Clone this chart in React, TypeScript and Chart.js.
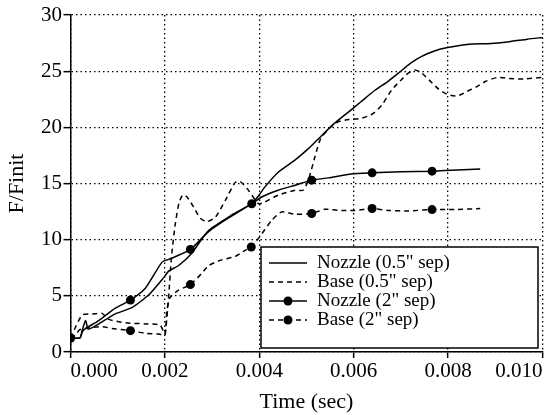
import React, { useEffect, useRef } from "react";
import { Chart, registerables } from "chart.js";

Chart.register(...registerables);

const FONT = "'Liberation Serif', 'Times New Roman', serif";

// Times are in milliseconds (converted to seconds for the x scale)
const nozzle05Time = [0, 0.2, 0.25, 0.32, 0.37, 0.45, 0.6, 0.95, 1.3, 1.66, 1.97, 2.08, 2.29, 2.57, 2.92, 3.42, 3.84, 4.0, 4.12, 4.4, 4.76, 5.04, 5.21, 5.55, 5.9, 6.16, 6.45, 6.73, 6.94, 7.2, 7.43, 7.71, 7.99, 8.45, 8.84, 9.26, 9.68, 10.0];
const nozzle05Vals = [1.25, 1.25, 1.95, 2.8, 2.05, 2.15, 2.5, 3.4, 3.95, 5.1, 6.6, 7.2, 7.7, 8.8, 10.8, 12.2, 13.2, 14.0, 14.7, 16.0, 17.1, 18.1, 18.8, 20.2, 21.4, 22.3, 23.3, 24.1, 24.8, 25.7, 26.3, 26.8, 27.1, 27.4, 27.45, 27.6, 27.85, 28.0];

const base05Time = [0, 0.11, 0.25, 0.46, 0.67, 0.81, 1.17, 1.59, 1.9, 2.0, 2.08, 2.14, 2.22, 2.3, 2.38, 2.47, 2.61, 2.75, 2.89, 3.07, 3.28, 3.49, 3.59, 3.77, 3.98, 4.12, 4.4, 4.76, 4.93, 5.04, 5.18, 5.3, 5.48, 5.67, 5.9, 6.16, 6.4, 6.6, 6.8, 7.0, 7.15, 7.3, 7.45, 7.6, 7.8, 8.0, 8.2, 8.4, 8.6, 8.8, 9.05, 9.3, 9.6, 10.0];
const base05Vals = [1.25, 2.25, 3.3, 3.38, 3.44, 2.9, 2.6, 2.5, 2.4, 1.6, 5.0, 8.5, 11.4, 13.3, 14.0, 13.8, 12.9, 11.9, 11.6, 12.0, 13.5, 15.1, 15.2, 14.4, 13.2, 13.36, 13.96, 14.4, 14.4, 15.3, 17.4, 19.0, 19.9, 20.5, 20.7, 20.8, 21.2, 22.0, 23.3, 24.2, 24.8, 25.1, 24.8, 24.2, 23.4, 22.9, 22.8, 23.2, 23.6, 24.1, 24.45, 24.35, 24.3, 24.45];

const nozzle2Time = [0, 0.2, 0.25, 0.32, 0.6, 0.95, 1.27, 1.59, 1.94, 2.12, 2.54, 2.92, 3.3, 3.84, 4.05, 4.4, 4.76, 5.11, 5.46, 5.95, 6.39, 7.0, 7.66, 8.2, 8.68];
const nozzle2Vals = [1.25, 1.25, 1.8, 2.1, 2.8, 3.9, 4.62, 5.7, 8.0, 8.3, 9.13, 10.7, 11.8, 13.2, 13.8, 14.4, 14.85, 15.3, 15.5, 15.85, 15.95, 16.05, 16.1, 16.2, 16.3];
const nozzle2Markers = [0, 1.27, 2.54, 3.84, 5.11, 6.39, 7.66];

const base2Time = [0, 0.1, 0.2, 0.4, 0.67, 0.88, 1.27, 1.59, 1.87, 2.0, 2.04, 2.1, 2.29, 2.54, 2.78, 2.93, 3.2, 3.49, 3.7, 3.83, 3.98, 4.26, 4.47, 4.76, 5.11, 5.39, 5.74, 6.02, 6.39, 6.73, 7.15, 7.66, 8.14, 8.68];
const base2Vals = [1.25, 1.5, 2.0, 2.15, 2.25, 2.1, 1.9, 1.66, 1.6, 1.5, 3.6, 4.8, 5.5, 6.0, 7.0, 7.7, 8.2, 8.5, 9.05, 9.35, 10.1, 11.7, 12.47, 12.27, 12.33, 12.7, 12.6, 12.6, 12.77, 12.6, 12.56, 12.68, 12.68, 12.77];
const base2Markers = [0, 1.27, 2.54, 3.83, 5.11, 6.39, 7.66];

const seriesLabels = ['Nozzle (0.5" sep)', 'Base (0.5" sep)', 'Nozzle (2" sep)', 'Base (2" sep)'];
const xTitle = "Time (sec)";
const yTitle = "F/Finit";

const toPoints = (t: number[], v: number[]) => t.map((ms, i) => ({ x: ms / 1000, y: v[i] }));
const radii = (t: number[], m: number[]) => t.map((ms) => (m.includes(ms) ? 4.5 : 0));

const boxLegend = {
  id: "boxLegend",
  afterDraw(chart: any, _args: any, opts: any) {
    const ctx = chart.ctx as CanvasRenderingContext2D;
    const { left, top, right, bottom, firstRow, rowGap, lineX1, lineX2, textX } = opts;
    ctx.save();
    ctx.fillStyle = "#fff";
    ctx.fillRect(left, top, right - left, bottom - top);
    ctx.lineWidth = 1.5;
    ctx.strokeStyle = "#000";
    ctx.setLineDash([]);
    ctx.strokeRect(left, top, right - left, bottom - top);
    chart.data.datasets.forEach((ds: any, i: number) => {
      const y = top + firstRow + i * rowGap;
      ctx.strokeStyle = "#000";
      ctx.lineWidth = ds.borderWidth;
      ctx.setLineDash(ds.borderDash || []);
      ctx.beginPath();
      ctx.moveTo(lineX1, y);
      ctx.lineTo(lineX2, y);
      ctx.stroke();
      ctx.setLineDash([]);
      if (ds.hasMarkers) {
        ctx.fillStyle = "#000";
        ctx.beginPath();
        ctx.arc((lineX1 + lineX2) / 2, y, 4.5, 0, Math.PI * 2);
        ctx.fill();
      }
      ctx.fillStyle = "#000";
      ctx.font = `19px ${FONT}`;
      ctx.textBaseline = "middle";
      ctx.textAlign = "left";
      ctx.fillText(ds.label, textX, y);
    });
    ctx.restore();
  },
};

export default function App() {
  const ref = useRef<HTMLCanvasElement | null>(null);
  useEffect(() => {
    if (!ref.current) return;
    const common = {
      borderColor: "#000",
      backgroundColor: "#000",
      borderWidth: 1.5,
      pointBackgroundColor: "#000",
      pointBorderWidth: 0,
      fill: false,
      tension: 0.2,
    };
    const chart = new Chart(ref.current, {
      type: "line",
      data: {
        datasets: [
          { ...common, label: seriesLabels[0], data: toPoints(nozzle05Time, nozzle05Vals), pointRadius: 0 },
          { ...common, label: seriesLabels[1], data: toPoints(base05Time, base05Vals), pointRadius: 0, borderDash: [5, 4] },
          { ...common, label: seriesLabels[2], data: toPoints(nozzle2Time, nozzle2Vals), pointRadius: radii(nozzle2Time, nozzle2Markers), hasMarkers: true },
          { ...common, label: seriesLabels[3], data: toPoints(base2Time, base2Vals), pointRadius: radii(base2Time, base2Markers), borderDash: [5, 4], hasMarkers: true },
        ] as any,
      },
      options: {
        responsive: false,
        animation: false,
        parsing: false as any,
        layout: { padding: { top: 15, right: 1.5, left: 0, bottom: 0 } },
        plugins: {
          legend: { display: false },
          tooltip: { enabled: false },
          boxLegend: { left: 261, top: 247, right: 538, bottom: 348, firstRow: 16, rowGap: 19, lineX1: 269, lineX2: 307, textX: 317 },
        } as any,
        scales: {
          x: {
            type: "linear",
            min: 0,
            max: 0.01,
            afterFit: (s: any) => { s.height = 63; },
            ticks: {
              stepSize: 0.002,
              align: "inner",
              padding: 1,
              color: "#000",
              font: { family: FONT, size: 21 },
              callback: (v: any) => Number(v).toFixed(3),
            },
            grid: { color: "#000", lineWidth: 1.3, tickLength: 6, tickWidth: 1.5 },
            border: { display: true, color: "#000", width: 1.5, dash: [1.5, 3] },
            title: { display: true, text: xTitle, color: "#000", font: { family: FONT, size: 22 }, padding: { top: 0, bottom: 0 } },
          },
          y: {
            type: "linear",
            min: 0,
            max: 30,
            afterFit: (s: any) => { s.width = 70.5; },
            ticks: {
              stepSize: 5,
              padding: 1.5,
              color: "#000",
              font: { family: FONT, size: 21 },
            },
            grid: { color: "#000", lineWidth: 1.3, tickLength: 7, tickWidth: 1.5 },
            border: { display: true, color: "#000", width: 1.5, dash: [1.5, 3] },
            title: { display: true, text: yTitle, color: "#000", font: { family: FONT, size: 22 }, padding: { top: 4, bottom: 0 } },
          },
        },
      },
      plugins: [boxLegend],
    });
    return () => chart.destroy();
  }, []);
  return (
    <div style={{ position: "fixed", left: 0, top: 0, width: 547, height: 415, background: "#fff" }}>
      <canvas ref={ref} width={547} height={415} style={{ display: "block" }} />
    </div>
  );
}
